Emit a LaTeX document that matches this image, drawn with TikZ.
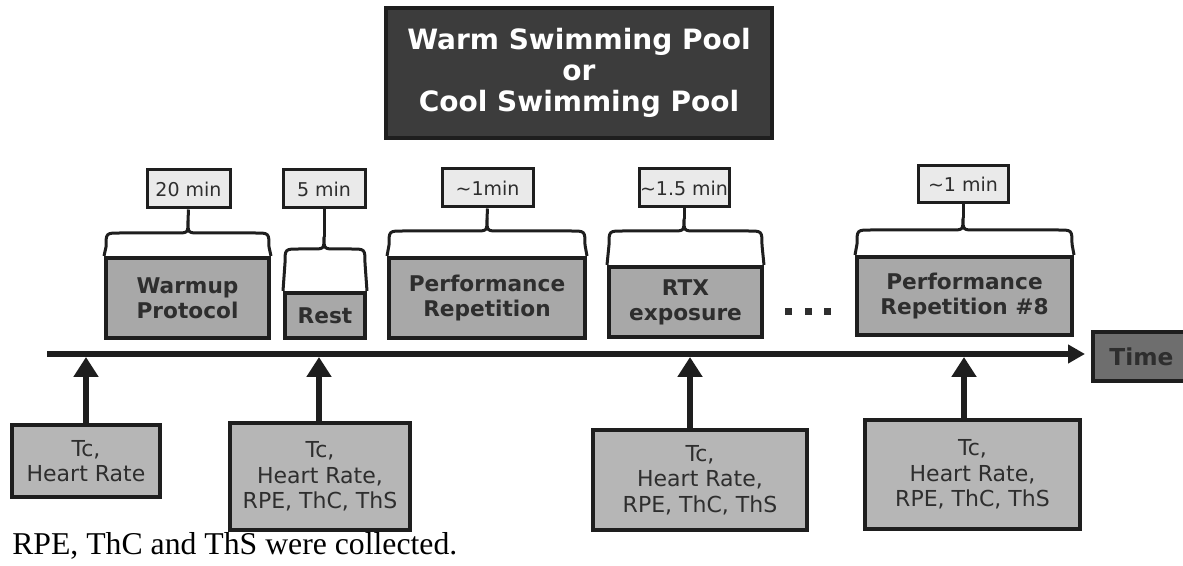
\documentclass[tikz,border=0pt]{standalone}
\usepackage{fontspec}
\usetikzlibrary{arrows.meta,calc}
\newfontfamily\dvs{DejaVu Sans}
\newfontfamily\lserif{Liberation Serif}
\definecolor{titlefill}{HTML}{3C3C3C}
\definecolor{mainfill}{HTML}{A8A8A8}
\definecolor{lowfill}{HTML}{B6B6B6}
\definecolor{durfill}{HTML}{EAEAEA}
\definecolor{timefill}{HTML}{6E6E6E}
\definecolor{ink}{HTML}{2E2E2E}
\definecolor{edge}{HTML}{1E1E1E}
% rectangle node from pixel corners: style, name, x1, y1, x2, y2, text
\newcommand\pbox[7]{%
  \node[#1, minimum width={(#5-#3)*0.75pt}, minimum height={(#6-#4)*0.75pt}]
    (#2) at ({(#3+#5)/2},{(#4+#6)/2}) {#7};}
\newcommand\bracex[7]{% #1 main node, #2 duration node, #3 L, #4 R, #5 C, #6 H, #7 K
  \draw[brc] (#1.north west) -- (#3,#6+14) .. controls (#3,#6) .. (#3+14,#6)
    -- (#5-12,#6) .. controls (#5,#6) .. (#5,#7)
    .. controls (#5,#6) .. (#5+12,#6) -- (#4-14,#6)
    .. controls (#4,#6) .. (#4,#6+14) -- (#1.north east);
  \draw[brc] (#5,#7) -- (#2.south);}
\begin{document}
\begin{tikzpicture}[x=0.75pt,y=-0.75pt,
  titlebox/.style={draw=edge, line width=3pt, fill=titlefill, inner sep=0pt, align=center,
    text=white, font=\dvs\bfseries\fontsize{21pt}{23.25pt}\selectfont},
  durbox/.style={draw=edge, line width=2.25pt, fill=durfill, inner sep=0pt, align=center,
    text=ink, font=\dvs\fontsize{14.25pt}{17pt}\selectfont},
  mainbox/.style={draw=edge, line width=3pt, fill=mainfill, inner sep=0pt, align=center,
    text=ink, font=\dvs\bfseries\fontsize{16.25pt}{18.75pt}\selectfont},
  lowbox/.style={draw=edge, line width=3pt, fill=lowfill, inner sep=0pt, align=center,
    text=ink, font=\dvs\fontsize{16.5pt}{19pt}\selectfont},
  timebox/.style={draw=edge, line width=3pt, fill=timefill, inner sep=0pt, align=center,
    text=ink, font=\dvs\bfseries\fontsize{17.5pt}{19pt}\selectfont},
  brc/.style={draw=edge, line width=2.25pt, line join=round},
  axisline/.style={draw=edge, line width=4.1pt, -{Triangle[length=12.75pt,width=13.5pt]}},
  uparrow/.style={draw=edge, line width=4.1pt, -{Triangle[length=15pt,width=18pt]}},
  dotsq/.style={fill=ink}
]
\useasboundingbox (0,0) rectangle (1183,566);

% title
\pbox{titlebox}{title}{386}{8}{772}{138}{Warm Swimming Pool\\or\\Cool Swimming Pool}

% duration boxes
\pbox{durbox}{d1}{147}{170}{230}{208}{20 min}
\pbox{durbox}{d2}{283}{170}{365}{208}{5 min}
\pbox{durbox}{d3}{442}{169}{533}{207}{\textasciitilde1min}
\pbox{durbox}{d4}{639}{169}{729}{207}{\textasciitilde1.5 min}
\pbox{durbox}{d5}{918}{166}{1008}{203}{\textasciitilde1 min}

% main phase boxes
\pbox{mainbox}{wm}{106}{258}{269}{338}{Warmup\\Protocol}
\pbox{mainbox}{rest}{285}{293}{365}{338}{Rest}
\pbox{mainbox}{pr1}{389}{258}{585}{338}{Performance\\Repetition}
\pbox{mainbox}{rtx}{609}{267}{762}{337}{RTX\\exposure}
\pbox{mainbox}{pr8}{857}{257}{1072}{335}{Performance\\Repetition \#8}

% braces
\bracex{wm}{d1}{106}{269}{188}{233}{221}
\bracex{rest}{d2}{285}{365}{324}{249}{237}
\bracex{pr1}{d3}{389}{585}{487}{231}{219}
\bracex{rtx}{d4}{609}{762}{684}{231}{219}
\bracex{pr8}{d5}{857}{1072}{963}{230}{218}

% dots
\fill[dotsq] (784.5,308.5) rectangle ++(7,7);
\fill[dotsq] (804.5,308.5) rectangle ++(7,7);
\fill[dotsq] (823.5,308.5) rectangle ++(7,7);

% time axis
\coordinate (ax0) at (47,354);
\coordinate (ax1) at (1085,354);
\draw[axisline] (ax0) -- (ax1);
\pbox{timebox}{time}{1093}{332}{1190}{381}{Time}

% measurement boxes
\pbox{lowbox}{b1}{12}{425}{160}{497}{Tc,\\Heart Rate}
\pbox{lowbox}{b2}{230}{423}{410}{530}{Tc,\\Heart Rate,\\RPE, ThC, ThS}
\pbox{lowbox}{b3}{593}{430}{807}{530}{Tc,\\Heart Rate,\\RPE, ThC, ThS}
\pbox{lowbox}{b4}{865}{420}{1080}{529}{Tc,\\Heart Rate,\\RPE, ThC, ThS}

% arrows to the axis
\coordinate (a1) at (86,357);
\coordinate (a2) at (319,357);
\coordinate (a3) at (690,357);
\coordinate (a4) at (964,357);
\draw[uparrow] (b1.north -| a1) -- (a1);
\draw[uparrow] (b2.north -| a2) -- (a2);
\draw[uparrow] (b3.north -| a3) -- (a3);
\draw[uparrow] (b4.north -| a4) -- (a4);

% caption fragment
\node[anchor=base west, inner sep=0pt, text=black, font=\lserif\fontsize{23.8pt}{27pt}\selectfont] (cap) at (12,555) {RPE, ThC and ThS were collected.};
\end{tikzpicture}
\end{document}
